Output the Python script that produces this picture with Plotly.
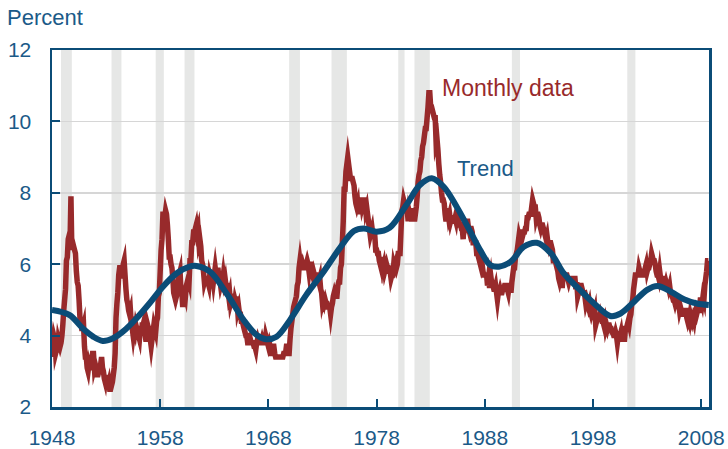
import plotly.graph_objects as go

# ---------------- data ----------------
start_year = 1948
rate_1948_1957 = [
    3.4, 3.8, 4.0, 3.9, 3.5, 3.6, 3.6, 3.9, 3.8, 3.7, 3.8, 4.0,
    4.3, 4.7, 5.0, 5.3, 6.1, 6.2, 6.7, 6.8, 6.6, 7.9, 6.4, 6.6,
    6.5, 6.4, 6.3, 5.8, 5.5, 5.4, 5.0, 4.5, 4.4, 4.2, 4.2, 4.3,
    3.7, 3.4, 3.4, 3.1, 3.0, 3.2, 3.1, 3.1, 3.3, 3.5, 3.5, 3.1,
    3.2, 3.1, 2.9, 2.9, 3.0, 3.0, 3.2, 3.4, 3.1, 3.0, 2.8, 2.7,
    2.9, 2.6, 2.6, 2.7, 2.5, 2.5, 2.6, 2.7, 2.9, 3.1, 3.5, 4.5,
    4.9, 5.2, 5.7, 5.9, 5.9, 5.6, 5.8, 6.0, 6.1, 5.7, 5.3, 5.0,
    4.9, 4.7, 4.6, 4.7, 4.3, 4.2, 4.0, 4.2, 4.1, 4.3, 4.2, 4.2,
    4.0, 3.9, 4.2, 4.0, 4.3, 4.3, 4.4, 4.1, 3.9, 3.9, 4.3, 4.2,
    4.2, 3.9, 3.7, 3.9, 4.1, 4.3, 4.2, 4.1, 4.4, 4.5, 5.1, 5.2,
]
rate_1958_1967 = [
    5.8, 6.4, 6.7, 7.4, 7.4, 7.3, 7.5, 7.4, 7.1, 6.7, 6.2, 6.2,
    6.0, 5.9, 5.6, 5.2, 5.1, 5.0, 5.1, 5.2, 5.5, 5.7, 5.8, 5.3,
    5.2, 4.8, 5.4, 5.2, 5.1, 5.4, 5.5, 5.6, 5.5, 6.1, 6.1, 6.6,
    6.6, 6.9, 6.9, 7.0, 7.1, 6.9, 7.0, 6.6, 6.7, 6.5, 6.1, 6.0,
    5.8, 5.5, 5.6, 5.6, 5.5, 5.5, 5.4, 5.7, 5.6, 5.4, 5.7, 5.5,
    5.7, 5.9, 5.7, 5.7, 5.9, 5.6, 5.6, 5.4, 5.5, 5.5, 5.7, 5.5,
    5.6, 5.4, 5.4, 5.3, 5.1, 5.2, 4.9, 5.0, 5.1, 5.1, 4.8, 5.0,
    4.9, 5.1, 4.7, 4.8, 4.6, 4.6, 4.4, 4.4, 4.3, 4.2, 4.1, 4.0,
    4.0, 3.8, 3.8, 3.8, 3.9, 3.8, 3.8, 3.8, 3.7, 3.7, 3.6, 3.8,
    3.9, 3.8, 3.8, 3.8, 3.8, 3.9, 3.8, 3.8, 3.8, 4.0, 3.9, 3.8,
]
rate_1968_1977 = [
    3.7, 3.8, 3.7, 3.5, 3.5, 3.7, 3.7, 3.5, 3.4, 3.4, 3.4, 3.4,
    3.4, 3.4, 3.4, 3.4, 3.4, 3.5, 3.5, 3.5, 3.7, 3.7, 3.5, 3.5,
    3.9, 4.2, 4.4, 4.6, 4.8, 4.9, 5.0, 5.1, 5.4, 5.5, 5.9, 6.1,
    5.9, 5.9, 6.0, 5.9, 5.9, 5.9, 6.0, 6.1, 6.0, 5.8, 6.0, 6.0,
    5.8, 5.7, 5.8, 5.7, 5.7, 5.7, 5.6, 5.6, 5.5, 5.6, 5.3, 5.2,
    4.9, 5.0, 4.9, 5.0, 4.9, 4.9, 4.8, 4.8, 4.8, 4.6, 4.8, 4.9,
    5.1, 5.2, 5.1, 5.1, 5.1, 5.4, 5.5, 5.5, 5.9, 6.0, 6.6, 7.2,
    8.1, 8.1, 8.6, 8.8, 9.0, 8.8, 8.6, 8.4, 8.4, 8.4, 8.3, 8.2,
    7.9, 7.7, 7.6, 7.7, 7.4, 7.6, 7.8, 7.8, 7.6, 7.7, 7.8, 7.8,
    7.5, 7.6, 7.4, 7.2, 7.0, 7.2, 6.9, 7.0, 6.8, 6.8, 6.8, 6.4,
]
rate_1978_1987 = [
    6.4, 6.3, 6.3, 6.1, 6.0, 5.9, 6.2, 5.9, 6.0, 5.8, 5.9, 6.0,
    5.9, 5.9, 5.8, 5.8, 5.6, 5.7, 5.7, 6.0, 5.9, 6.0, 5.9, 6.0,
    6.3, 6.3, 6.3, 6.9, 7.5, 7.6, 7.8, 7.7, 7.5, 7.5, 7.5, 7.2,
    7.5, 7.4, 7.4, 7.2, 7.5, 7.5, 7.2, 7.4, 7.6, 7.9, 8.3, 8.5,
    8.6, 8.9, 9.0, 9.3, 9.4, 9.6, 9.8, 9.8, 10.1, 10.4, 10.8, 10.8,
    10.4, 10.4, 10.3, 10.2, 10.1, 10.1, 9.4, 9.5, 9.2, 8.8, 8.5, 8.3,
    8.0, 7.8, 7.8, 7.7, 7.4, 7.2, 7.5, 7.5, 7.3, 7.4, 7.2, 7.3,
    7.3, 7.2, 7.2, 7.3, 7.2, 7.4, 7.4, 7.1, 7.1, 7.1, 7.0, 7.0,
    6.7, 7.2, 7.2, 7.1, 7.2, 7.2, 7.0, 6.9, 7.0, 7.0, 6.9, 6.6,
    6.6, 6.6, 6.6, 6.3, 6.3, 6.2, 6.1, 6.0, 5.9, 6.0, 5.8, 5.7,
]
rate_1988_1997 = [
    5.7, 5.7, 5.7, 5.4, 5.6, 5.4, 5.4, 5.6, 5.4, 5.4, 5.3, 5.3,
    5.4, 5.2, 5.0, 5.2, 5.2, 5.3, 5.2, 5.2, 5.3, 5.3, 5.4, 5.4,
    5.4, 5.3, 5.2, 5.4, 5.4, 5.2, 5.5, 5.7, 5.9, 5.9, 6.2, 6.3,
    6.4, 6.6, 6.8, 6.7, 6.9, 6.9, 6.8, 6.9, 6.9, 7.0, 7.0, 7.3,
    7.3, 7.4, 7.4, 7.4, 7.6, 7.8, 7.7, 7.6, 7.6, 7.3, 7.4, 7.4,
    7.3, 7.1, 7.0, 7.1, 7.1, 7.0, 6.9, 6.8, 6.7, 6.8, 6.6, 6.5,
    6.6, 6.6, 6.5, 6.4, 6.1, 6.1, 6.1, 6.0, 5.9, 5.8, 5.6, 5.5,
    5.6, 5.4, 5.4, 5.8, 5.6, 5.6, 5.7, 5.7, 5.6, 5.5, 5.6, 5.6,
    5.6, 5.5, 5.5, 5.6, 5.6, 5.3, 5.5, 5.1, 5.2, 5.2, 5.4, 5.4,
    5.3, 5.2, 5.2, 5.1, 4.9, 5.0, 4.9, 4.8, 4.9, 4.7, 4.6, 4.7,
]
rate_1998_2008 = [
    4.6, 4.6, 4.7, 4.3, 4.4, 4.5, 4.5, 4.5, 4.6, 4.5, 4.4, 4.4,
    4.3, 4.4, 4.2, 4.3, 4.2, 4.3, 4.3, 4.2, 4.2, 4.1, 4.1, 4.0,
    4.0, 4.1, 4.0, 3.8, 4.0, 4.0, 4.0, 4.1, 3.9, 3.9, 3.9, 3.9,
    4.2, 4.2, 4.3, 4.4, 4.3, 4.5, 4.6, 4.9, 5.0, 5.3, 5.5, 5.7,
    5.7, 5.7, 5.7, 5.9, 5.8, 5.8, 5.8, 5.7, 5.7, 5.7, 5.9, 6.0,
    5.8, 5.9, 5.9, 6.0, 6.1, 6.3, 6.2, 6.1, 6.1, 6.0, 5.8, 5.7,
    5.7, 5.6, 5.8, 5.6, 5.6, 5.6, 5.5, 5.4, 5.4, 5.5, 5.4, 5.4,
    5.3, 5.4, 5.2, 5.2, 5.1, 5.0, 5.0, 4.9, 5.0, 5.0, 5.0, 4.9,
    4.7, 4.8, 4.7, 4.7, 4.6, 4.6, 4.7, 4.7, 4.5, 4.4, 4.5, 4.4,
    4.6, 4.5, 4.4, 4.5, 4.4, 4.6, 4.7, 4.6, 4.7, 4.7, 4.7, 5.0,
    5.0, 4.9, 5.1, 5.0, 5.4, 5.6, 5.8, 6.1, 6.1,
]

trend_years = [
    1948.0, 1949.6, 1950.85, 1951.8, 1952.7, 1953.6, 1954.55, 1955.8, 1957.0,
    1958.25, 1959.5, 1960.7, 1961.35, 1962.6, 1964.2, 1965.7, 1966.9, 1967.8,
    1968.75, 1970.0, 1971.5, 1973.1, 1974.6, 1975.9, 1976.8, 1978.0, 1979.2,
    1980.8, 1982.0, 1983.1, 1984.2, 1985.4, 1986.65, 1987.6, 1988.5, 1989.3,
    1990.4, 1991.6, 1992.8, 1994.1, 1995.3, 1996.8, 1998.1, 1999.6, 2000.55,
    2001.8, 2003.0, 2003.95, 2005.2, 2006.4, 2007.6, 2008.7,
]
trend_values = [
    4.72, 4.58, 4.20, 3.97, 3.85, 3.92, 4.11, 4.48, 4.90,
    5.37, 5.74, 5.93, 5.95, 5.79, 5.15, 4.44, 4.02, 3.90,
    3.97, 4.44, 5.14, 5.79, 6.45, 6.93, 7.00, 6.91, 7.02,
    7.68, 8.22, 8.41, 8.17, 7.61, 6.92, 6.38, 5.98, 5.93,
    6.07, 6.49, 6.60, 6.31, 5.74, 5.28, 4.90, 4.55, 4.62,
    4.95, 5.28, 5.39, 5.23, 5.02, 4.90, 4.86,
]

# NBER recessions (start year, start month, end year, end month)
recessions = [
    (1948, 11, 1949, 10), (1953, 7, 1954, 5), (1957, 8, 1958, 4),
    (1960, 4, 1961, 2), (1969, 12, 1970, 11), (1973, 11, 1975, 3),
    (1980, 1, 1980, 7), (1981, 7, 1982, 11), (1990, 7, 1991, 3),
    (2001, 3, 2001, 11),
]

x_ticks = [1948, 1958, 1968, 1978, 1988, 1998, 2008]
y_ticks = [2, 4, 6, 8, 10, 12]

# ---------------- figure ----------------
monthly = (rate_1948_1957 + rate_1958_1967 + rate_1968_1977 +
           rate_1978_1987 + rate_1988_1997 + rate_1998_2008)
months_x = [start_year + i / 12 for i in range(len(monthly))]

RED = "#982a2b"
BLUE = "#0b4c77"
TXT = "#1b5a88"
GRID = "#d6d6d6"
SHADE = "#e6e7e6"
FONT = "Liberation Sans, Arial, sans-serif"

fig = go.Figure()
fig.add_trace(go.Scatter(x=months_x, y=monthly, mode="lines",
                         line=dict(color=RED, width=5.5, simplify=False),
                         hoverinfo="skip"))
fig.add_trace(go.Scatter(x=trend_years, y=trend_values, mode="lines",
                         line=dict(color=BLUE, width=6, shape="spline", smoothing=1.0),
                         hoverinfo="skip"))

for (y0, m0, y1, m1) in recessions:
    fig.add_shape(type="rect", xref="x", yref="y",
                  x0=y0 + (m0 - 1) / 12, x1=y1 + m1 / 12, y0=2, y1=12,
                  fillcolor=SHADE, line_width=0, layer="below")

fig.add_annotation(x=1983.9, y=10.94, xref="x", yref="y", text="Monthly data",
                   showarrow=False, xanchor="left", yanchor="middle",
                   font=dict(family=FONT, size=23, color=RED))
fig.add_annotation(x=1985.2, y=8.67, xref="x", yref="y", text="Trend",
                   showarrow=False, xanchor="left", yanchor="middle",
                   font=dict(family=FONT, size=22, color=TXT))
fig.add_annotation(x=-0.072, y=1.09, xref="paper", yref="paper", text="Percent",
                   showarrow=False, xanchor="left", yanchor="middle",
                   font=dict(family=FONT, size=22, color=TXT))

fig.update_layout(
    width=728, height=449,
    margin=dict(l=52, r=19, t=50, b=42, autoexpand=False),
    paper_bgcolor="white", plot_bgcolor="white",
    showlegend=False,
    font=dict(family=FONT, size=21, color=TXT),
)
fig.update_xaxes(range=[1948, 2008.72], tickvals=x_ticks,
                 ticktext=[str(t) for t in x_ticks],
                 showgrid=False, zeroline=False, automargin=False,
                 showline=True, linecolor=BLUE, linewidth=2.5, mirror=True,
                 ticks="inside", ticklen=8, tickwidth=2, tickcolor=BLUE,
                 ticklabelstandoff=10,
                 tickfont=dict(family=FONT, size=21, color=TXT))
fig.update_yaxes(range=[2, 12], tickvals=y_ticks,
                 showgrid=True, gridcolor=GRID, gridwidth=1.5, zeroline=False,
                 automargin=False,
                 showline=True, linecolor=BLUE, linewidth=2.5, mirror=True,
                 ticks="inside", ticklen=8, tickwidth=2, tickcolor=BLUE,
                 ticklabelstandoff=14,
                 tickfont=dict(family=FONT, size=21, color=TXT))

post = ("document.body.style.margin='0';"
        "document.body.style.padding='0';"
        "var s=document.createElement('style');"
        "s.textContent='body{margin:0!important;padding:0!important;}"
        ".scatterlayer .js-line{stroke-linejoin:miter !important;"
        "stroke-miterlimit:9 !important;}';"
        "document.head.appendChild(s);")
fig.write_html("out.html", post_script=post,
               config={"displayModeBar": False, "staticPlot": True})
